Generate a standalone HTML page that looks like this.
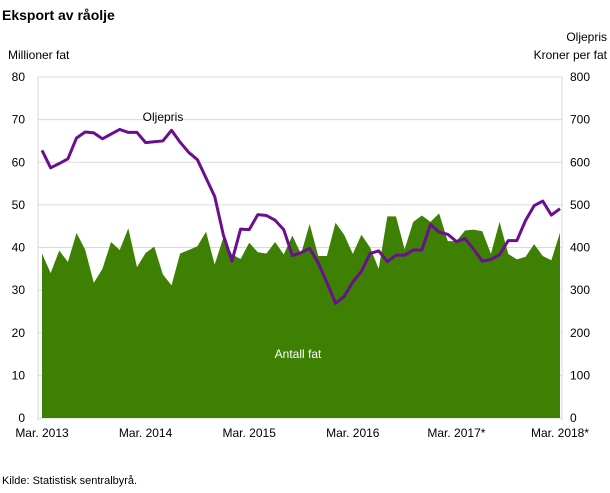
<!DOCTYPE html>
<html><head><meta charset="utf-8"><style>
body{margin:0;background:#fff;font-family:"Liberation Sans",sans-serif;}
svg text{font-family:"Liberation Sans",sans-serif;}
</style></head><body>
<svg id="chart" width="610" height="488">
<text x="2" y="20" font-size="14" font-weight="bold" fill="#000">Eksport av råolje</text>
<text x="8" y="59" font-size="12" fill="#000">Millioner fat</text>
<text x="607" y="41" font-size="12" fill="#000" text-anchor="end">Oljepris</text>
<text x="607" y="59" font-size="12" fill="#000" text-anchor="end">Kroner per fat</text>
<text x="2" y="484" font-size="11" fill="#000">Kilde: Statistisk sentralbyrå.</text>
<g id="grid"></g><g id="area"></g><g id="line"></g><g id="axes"></g>
<text x="163" y="121" font-size="12" fill="#000" text-anchor="middle">Oljepris</text>
<text x="298" y="358" font-size="12" fill="#fff" text-anchor="middle">Antall fat</text>
</svg>
<script>
const volume=[38.6,34,39.3,36.6,43.4,39.5,31.7,35,41.3,39.4,44.5,35.4,38.7,40.2,33.7,31.1,38.6,39.4,40.3,43.7,36,42.3,38.4,37.3,41.1,38.9,38.6,41.3,38.4,42.8,38.5,45.5,38,38,45.8,43,38.5,43,40,35,47.3,47.3,39.6,46,47.5,46,48,41.5,41.5,44,44.2,43.8,38.5,46,38.5,37.2,37.8,40.8,38,37,43.5];
const price=[628,587,597,608,657,671,669,655,666,677,670,670,646,648,650,675,647,623,606,563,520,430,368,443,442,477,475,464,442,381,388,398,364,318,269,285,319,344,386,392,367,382,382,394,394,454,436,431,414,421,396,368,372,383,416,416,463,498,509,476,491];
const xLabels=["Mar. 2013","Mar. 2014","Mar. 2015","Mar. 2016","Mar. 2017*","Mar. 2018*"];
const leftTicks=[0,10,20,30,40,50,60,70,80];
const rightTicks=[0,100,200,300,400,500,600,700,800];
const NS="http://www.w3.org/2000/svg";
const X0=42,X1=560,Y0=418,Y1=77;
const xs=i=>X0+(X1-X0)*i/(volume.length-1);
const yL=v=>Y0-(Y0-Y1)*v/80;
const yR=v=>Y0-(Y0-Y1)*v/800;
function mk(t,a,p){const e=document.createElementNS(NS,t);for(const k in a)e.setAttribute(k,a[k]);document.getElementById(p).appendChild(e);return e;}
leftTicks.forEach((t,i)=>{
 const g=mk('line',{x1:38,x2:562,y1:yL(t),y2:yL(t),stroke:'#d9d9d9','stroke-width':1},'grid');
 
 
 const l=mk('text',{x:25,y:yL(t)+4,'font-size':12,'text-anchor':'end'},'axes');l.textContent=t;
 
 
});
rightTicks.forEach(t=>{
 const l=mk('text',{x:570,y:yR(t)+4,'font-size':12},'axes');l.textContent=t;
 
 
});
[38,562].forEach(x=>{const a=mk('line',{x1:x,x2:x,y1:Y1,y2:Y0+3,stroke:'#d9d9d9'},'grid');
 
 });
xLabels.forEach((t,i)=>{
 const x=xs(i*12);
 const l=mk('text',{x:x,y:437,'font-size':12,'text-anchor':'middle'},'axes');l.textContent=t;
 
 
});
let d='M'+xs(0)+','+Y0;volume.forEach((v,i)=>d+=' L'+xs(i)+','+yL(v));d+=' L'+xs(volume.length-1)+','+Y0+' Z';
const ar=mk('path',{d:d,fill:'#3d8003'},'area');


const pl=mk('polyline',{points:price.map((v,i)=>xs(i)+','+yR(v)).join(' '),fill:'none',stroke:'#6a0f8e','stroke-width':3,'stroke-linejoin':'round'},'line');


</script>
</body></html>
